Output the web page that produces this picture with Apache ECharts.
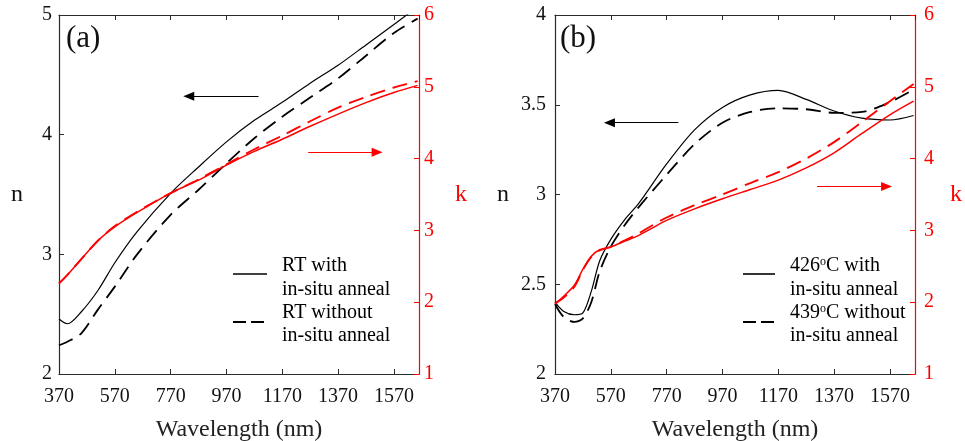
<!DOCTYPE html>
<html>
<head>
<meta charset="utf-8">
<script src="https://cdn.jsdelivr.net/npm/echarts@6/dist/echarts.min.js"></script>
<style>
  html, body { margin: 0; padding: 0; background: #fff; }
  #chart { width: 965px; height: 441px; }
</style>
</head>
<body>
<div id="chart"></div>
<script>
// ---- (a) films deposited at room temperature ----
const wlA = [370, 400, 450, 510, 570, 650, 770, 870, 970, 1070, 1170, 1270, 1370, 1470, 1570, 1655];
const nRtWith    = [2.46, 2.42, 2.52, 2.70, 2.93, 3.19, 3.51, 3.73, 3.94, 4.12, 4.27, 4.43, 4.58, 4.75, 4.92, 5.07];
const nRtWithout = [2.24, 2.27, 2.34, 2.54, 2.73, 3.00, 3.33, 3.54, 3.76, 3.97, 4.15, 4.31, 4.47, 4.66, 4.85, 4.97];
const kRtWith    = [2.26, 2.38, 2.60, 2.86, 3.05, 3.25, 3.52, 3.70, 3.91, 4.10, 4.27, 4.45, 4.62, 4.78, 4.92, 5.02];
const kRtWithout = [2.26, 2.38, 2.60, 2.86, 3.06, 3.26, 3.52, 3.71, 3.92, 4.13, 4.32, 4.52, 4.71, 4.86, 4.99, 5.08];

// ---- (b) films deposited at elevated temperature ----
const wlB = [370, 400, 440, 470, 500, 530, 570, 620, 670, 770, 870, 970, 1070, 1170, 1270, 1370, 1470, 1570, 1655];
const n426With    = [2.40, 2.35, 2.33, 2.34, 2.46, 2.63, 2.75, 2.86, 2.95, 3.17, 3.36, 3.485, 3.555, 3.58, 3.53, 3.465, 3.425, 3.415, 3.44];
const n439Without = [2.39, 2.32, 2.29, 2.31, 2.40, 2.57, 2.71, 2.83, 2.93, 3.11, 3.28, 3.40, 3.46, 3.48, 3.475, 3.455, 3.46, 3.515, 3.585];
const k426With    = [1.98, 2.08, 2.24, 2.46, 2.64, 2.73, 2.77, 2.85, 2.93, 3.14, 3.30, 3.44, 3.57, 3.70, 3.87, 4.08, 4.35, 4.61, 4.80];
const k439Without = [1.98, 2.06, 2.22, 2.45, 2.63, 2.72, 2.77, 2.86, 2.96, 3.18, 3.35, 3.50, 3.66, 3.81, 4.00, 4.23, 4.51, 4.80, 5.04];

// legend wording and panel tags
const legendA = ['RT with', 'in-situ anneal', 'RT without', 'in-situ anneal'];
const legendB = ['{t|426}{s|o}{t|C with}', 'in-situ anneal', '{t|439}{s|o}{t|C without}', 'in-situ anneal'];
const panelTags = ['(a)', '(b)'];

// arrows pointing each curve family to its axis: [x0, y0, x1, y1] in data units
const arrowNA = [1085, 4.32, 835, 4.32];
const arrowKA = [1263, 4.09, 1510, 4.09];
const arrowNB = [812, 3.40, 565, 3.40];
const arrowKB = [1309, 3.61, 1558, 3.61];

const FONT = 'Liberation Serif';
const RED = '#ff0000';
const AXIS_BLACK = '#2b2b2b';

const pairs = (xs, ys) => xs.map((x, i) => [x, ys[i]]);

function curve(xs, ys, xi, yi, color, dashed, width, z) {
  return {
    type: 'line', xAxisIndex: xi, yAxisIndex: yi,
    data: pairs(xs, ys),
    showSymbol: false, smooth: 0.3,
    clip: true, silent: true, z: z,
    lineStyle: { color: color, width: width, type: dashed ? [15, 8] : 'solid' }
  };
}

function arrow(a, color) {
  return {
    silent: true, animation: false,
    symbol: ['none', 'triangle'], symbolSize: [9, 11],
    label: { show: false },
    lineStyle: { color: color, width: 1, type: 'solid' },
    itemStyle: { color: color },
    emphasis: { disabled: true },
    data: [[{ coord: [a[0], a[1]] }, { coord: [a[2], a[3]] }]]
  };
}

function xBottom(grid) {
  return {
    type: 'value', gridIndex: grid, min: 370, max: 1660, interval: 200,
    position: 'bottom',
    name: 'Wavelength (nm)', nameLocation: 'middle', nameGap: 44,
    nameTextStyle: { fontFamily: FONT, fontSize: 24, color: '#222' },
    axisLine: { lineStyle: { color: AXIS_BLACK, width: 1.2 } },
    axisTick: { inside: true, length: 5, lineStyle: { color: AXIS_BLACK } },
    axisLabel: { fontFamily: FONT, fontSize: 20, color: '#111', margin: 13, showMaxLabel: false,
                 formatter: v => String(v) },
    splitLine: { show: false }
  };
}
function xTop(grid) {
  return {
    type: 'value', gridIndex: grid, min: 370, max: 1660, interval: 200,
    position: 'top',
    axisLine: { lineStyle: { color: AXIS_BLACK, width: 1.2 } },
    axisTick: { inside: true, length: 5, lineStyle: { color: AXIS_BLACK } },
    axisLabel: { show: false },
    splitLine: { show: false }
  };
}
function yN(grid, max, interval, margin, gap) {
  return {
    type: 'value', gridIndex: grid, min: 2, max: max, interval: interval,
    position: 'left',
    name: 'n', nameLocation: 'middle', nameRotate: 0, nameGap: gap,
    nameTextStyle: { fontFamily: FONT, fontSize: 24, color: '#111' },
    axisLine: { show: true, lineStyle: { color: AXIS_BLACK, width: 1.2 } },
    axisTick: { show: true, inside: true, length: 5, lineStyle: { color: AXIS_BLACK } },
    axisLabel: { fontFamily: FONT, fontSize: 20, color: '#111', margin: margin },
    splitLine: { show: false }
  };
}
function yK(grid, margin, gap) {
  return {
    type: 'value', gridIndex: grid, min: 1, max: 6, interval: 1,
    position: 'right',
    name: 'k', nameLocation: 'middle', nameRotate: 0, nameGap: gap,
    nameTextStyle: { fontFamily: FONT, fontSize: 24, color: RED },
    axisLine: { show: true, lineStyle: { color: RED, width: 1.2 } },
    axisTick: { show: true, inside: true, length: 5, lineStyle: { color: RED } },
    axisLabel: { fontFamily: FONT, fontSize: 20, color: RED, margin: margin },
    splitLine: { show: false }
  };
}

function legendBlock(x0, x1, tx, lines) {
  const rich = {
    t: { fontFamily: FONT, fontSize: 20, color: '#111' },
    s: { fontFamily: FONT, fontSize: 12, color: '#111', verticalAlign: 'top' }
  };
  const rows = [266, 290, 313, 336];
  const els = [
    { type: 'line', shape: { x1: x0, y1: 274, x2: x1, y2: 274 }, style: { stroke: '#000', lineWidth: 1.6 } },
    { type: 'line', shape: { x1: x0, y1: 322, x2: x1, y2: 322 }, style: { stroke: '#000', lineWidth: 1.8, lineDash: [13, 5] } }
  ];
  lines.forEach((txt, i) => {
    els.push({
      type: 'text', x: tx, y: rows[i], silent: true,
      style: {
        text: txt.indexOf('{') === 0 ? txt : '{t|' + txt + '}',
        rich: rich, align: 'left', verticalAlign: 'middle'
      }
    });
  });
  return els;
}

const chart = echarts.init(document.getElementById('chart'), null, { renderer: 'canvas' });

const seriesList = [
  curve(wlA, nRtWith, 0, 0, '#000', false, 1.2, 2),
  curve(wlA, nRtWithout, 0, 0, '#000', true, 1.8, 2),
  curve(wlA, kRtWith, 0, 1, RED, false, 1.5, 3),
  curve(wlA, kRtWithout, 0, 1, RED, true, 1.9, 3),
  curve(wlB, n426With, 2, 2, '#000', false, 1.2, 2),
  curve(wlB, n439Without, 2, 2, '#000', true, 1.8, 2),
  curve(wlB, k426With, 2, 3, RED, false, 1.5, 3),
  curve(wlB, k439Without, 2, 3, RED, true, 1.9, 3)
];
seriesList[0].markLine = arrow(arrowNA, '#000');
seriesList[2].markLine = arrow(arrowKA, RED);
seriesList[4].markLine = arrow(arrowNB, '#000');
seriesList[6].markLine = arrow(arrowKB, RED);

chart.setOption({
  animation: false,
  backgroundColor: '#fff',
  grid: [
    { left: 59, width: 360, top: 15, height: 359, outerBoundsMode: 'none' },
    { left: 555, width: 360, top: 15, height: 359, outerBoundsMode: 'none' }
  ],
  xAxis: [xBottom(0), xTop(0), xBottom(1), xTop(1)],
  yAxis: [
    yN(0, 5, 1, 7, 36),
    yK(0, 5, 36),
    yN(1, 4, 0.5, 9, 46),
    yK(1, 9, 35)
  ],
  series: seriesList,
  graphic: [
    { type: 'text', x: 66, y: 39, silent: true,
      style: { text: panelTags[0], fontFamily: FONT, fontSize: 31, fill: '#111', align: 'left', verticalAlign: 'middle' } },
    { type: 'text', x: 560, y: 39, silent: true,
      style: { text: panelTags[1], fontFamily: FONT, fontSize: 31, fill: '#111', align: 'left', verticalAlign: 'middle' } }
  ].concat(legendBlock(233, 267, 282, legendA), legendBlock(743, 775, 790, legendB))
});
</script>
</body>
</html>
